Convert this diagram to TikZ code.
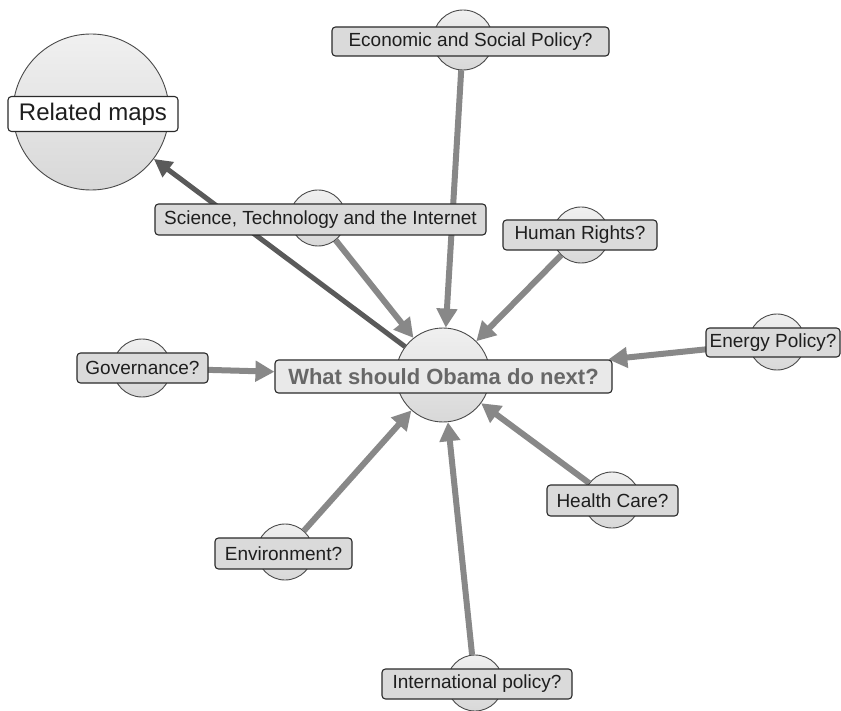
\documentclass[tikz,border=0pt]{standalone}
\usepackage{fontspec}
\setmainfont{Liberation Sans}
\usetikzlibrary{arrows.meta,backgrounds}

\definecolor{linkgray}{HTML}{888888}
\definecolor{linkdark}{HTML}{5A5A5A}
\definecolor{balltop}{HTML}{F0F0F0}
\definecolor{ballbottom}{HTML}{D8D8D8}
\definecolor{ballline}{HTML}{4A4A4A}
\definecolor{tagfill}{HTML}{DADADA}
\definecolor{hubfill}{HTML}{E9E9E9}
\definecolor{tagline}{HTML}{2A2A2A}
\definecolor{tagtext}{HTML}{1E1E1E}
\definecolor{hubtext}{HTML}{676767}

\tikzset{
  ball/.style={circle, draw=ballline, line width=0.9pt,
    top color=balltop, bottom color=ballbottom,
    minimum size=#1, inner sep=0pt},
  tag/.style={draw=tagline, line width=1.1pt, fill=tagfill,
    rounded corners=3.5pt, text=tagtext, inner sep=0pt,
    font=\fontsize{19}{21}\selectfont, minimum height=30pt},
  link/.style={draw=linkgray, line width=6pt,
    -{Triangle[length=19pt,width=20pt]}},
  backlink/.style={draw=linkdark, line width=5pt,
    -{Triangle[length=18pt,width=18pt]}},
}

\begin{document}
\begin{tikzpicture}[x=1pt,y=-1pt]
  \useasboundingbox (0,0) rectangle (841,711);

  % topic circles
  \node[ball=156pt] (relc)  at (91,112)  {};
  \node[ball=60pt]  (econc) at (463,40)  {};
  \node[ball=56pt]  (scic)  at (318,218) {};
  \node[ball=56pt]  (humc)  at (581,235) {};
  \node[ball=56pt]  (enec)  at (777,342) {};
  \node[ball=58pt]  (govc)  at (142,368) {};
  \node[ball=94pt]  (hubc)  at (443,375) {};
  \node[ball=56pt]  (heac)  at (612,500) {};
  \node[ball=56pt]  (envc)  at (285,552) {};
  \node[ball=56pt]  (intc)  at (475,683) {};

  % labels over the circles
  \node[tag, fill=white, minimum width=170pt, minimum height=35pt,
        font=\fontsize{24}{26}\selectfont] (rel) at (93,114) {Related maps};
  \node[tag, minimum width=277pt, minimum height=29pt] (econ) at (470.5,41.5) {Economic and Social Policy?};
  \node[tag, minimum width=331pt, minimum height=31pt] (sci) at (320.5,219.5) {Science, Technology and the Internet};
  \node[tag, minimum width=154pt] (hum) at (580,235) {Human Rights?};
  \node[tag, minimum width=134pt, minimum height=29pt] (ene) at (773,342.5) {Energy Policy?};
  \node[tag, minimum width=131pt] (gov) at (142.5,368) {Governance?};
  \node[tag, fill=hubfill, text=hubtext, minimum width=337pt, minimum height=33pt,
        font=\bfseries\fontsize{22}{24}\selectfont] (hub) at (443.5,376.5) {What should Obama do next?};
  \node[tag, minimum width=131pt, minimum height=31pt] (hea) at (612.5,500.5) {Health Care?};
  \node[tag, minimum width=137pt, minimum height=31pt] (env) at (283.5,553.5) {Environment?};
  \node[tag, minimum width=190pt] (int) at (477,684) {International policy?};

  % connectors, kept underneath the circles and labels
  \begin{scope}[on background layer]
    \fill[white] (0,0) rectangle (841,711);
    \draw[link] (econc) -- (hubc);
    \draw[link] (scic)  -- (hubc);
    \draw[link] (humc)  -- (hubc);
    \draw[link] (enec)  -- (hub);
    \draw[link] (govc)  -- (hub);
    \draw[link] (heac)  -- (hubc);
    \draw[link] (envc)  -- (hubc);
    \draw[link] (intc)  -- (hubc);
    \draw[backlink] (hubc) -- (relc);
  \end{scope}
\end{tikzpicture}
\end{document}
